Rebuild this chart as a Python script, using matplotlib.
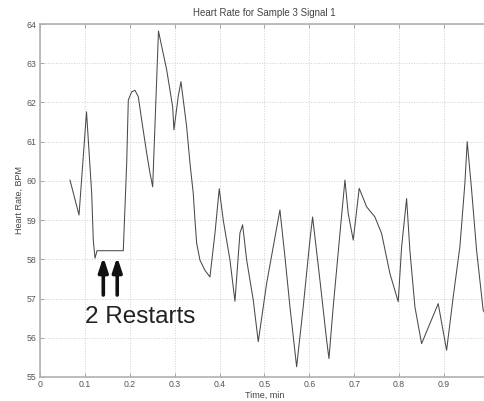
import matplotlib
matplotlib.use("Agg")
import matplotlib.pyplot as plt

# Heart rate trace (time in minutes, BPM)
time_min = [0.0668, 0.0869, 0.1036, 0.1151, 0.1187, 0.1225, 0.127, 0.1855,
            0.1931, 0.1967, 0.2042, 0.2116, 0.2189, 0.2265, 0.2376, 0.245,
            0.251, 0.2639, 0.2822, 0.2955, 0.2984, 0.308, 0.314, 0.3192,
            0.3267, 0.3341, 0.3414, 0.3452, 0.349, 0.3563, 0.3675, 0.3786,
            0.3898, 0.3993, 0.4082, 0.4232, 0.4343, 0.4454, 0.4514, 0.4604,
            0.4751, 0.4862, 0.5049, 0.5196, 0.5345, 0.5457, 0.5568, 0.5717,
            0.5864, 0.6013, 0.6073, 0.6236, 0.6385, 0.6437, 0.6532, 0.6682,
            0.6793, 0.6866, 0.6978, 0.7111, 0.7276, 0.7461, 0.761, 0.7795,
            0.798, 0.8056, 0.8167, 0.824, 0.8352, 0.8501, 0.8871, 0.9058,
            0.9205, 0.9354, 0.9465, 0.9517, 0.9615, 0.9726, 0.9873, 0.9978]
heart_rate = [60.02, 59.13, 61.76, 59.69, 58.49, 58.03, 58.22, 58.22,
              60.45, 62.06, 62.27, 62.31, 62.15, 61.55, 60.71, 60.2,
              59.85, 63.82, 62.83, 61.89, 61.3, 62.16, 62.53, 62.06,
              61.38, 60.45, 59.68, 59.0, 58.41, 57.98, 57.72, 57.55,
              58.67, 59.8, 59.0, 57.98, 56.93, 58.67, 58.88, 57.98,
              56.96, 55.9, 57.39, 58.32, 59.26, 58.06, 56.79, 55.26,
              56.79, 58.49, 59.08, 57.47, 55.94, 55.47, 56.79, 58.66,
              60.02, 59.17, 58.49, 59.81, 59.34, 59.08, 58.66, 57.64,
              56.92, 58.32, 59.55, 58.23, 56.79, 55.85, 56.87, 55.68,
              57.04, 58.32, 59.93, 61.0, 59.77, 58.23, 56.7, 56.5]

restart_times = [0.141, 0.172]
arrow_tip_bpm = 58.06
arrow_tail_bpm = 57.09
annotation_text = "2 Restarts"
x_ticks = [0, 0.1, 0.2, 0.3, 0.4, 0.5, 0.6, 0.7, 0.8, 0.9]
x_tick_labels = ["0", "0.1", "0.2", "0.3", "0.4", "0.5", "0.6", "0.7", "0.8", "0.9"]
y_ticks = [55, 56, 57, 58, 59, 60, 61, 62, 63, 64]

plt.rcParams['font.family'] = ['Liberation Sans', 'DejaVu Sans']

fig = plt.figure(figsize=(4.85, 4.01), dpi=100)
ax = fig.add_axes([0.0825, 0.0599, 1.008 - 0.0825, 0.8802])

ax.plot(time_min, heart_rate, color='#4a4a4a', lw=0.75)

ax.set_xlim(0, 1)
ax.set_ylim(55, 64)
ax.set_xticks(x_ticks)
ax.set_xticklabels(x_tick_labels)
ax.set_yticks(y_ticks)
ax.grid(True, color='#cfcfcf', linestyle=':', linewidth=0.7)
ax.tick_params(direction='in', length=3, width=0.6, colors='#999999',
               labelcolor='#555555', labelsize=6.3, top=True, right=True, pad=2.5)
for s in ax.spines.values():
    s.set_color('#b0b0b0')
    s.set_linewidth(1.2)

ax.set_title("Heart Rate for Sample 3 Signal 1", fontsize=7, color='#444444', pad=6)
ax.set_xlabel("Time, min", fontsize=6.5, color='#444444', labelpad=1)
ax.set_ylabel("Heart Rate, BPM", fontsize=6.5, color='#444444', labelpad=2)

for t in restart_times:
    ax.annotate("", xy=(t, arrow_tip_bpm), xytext=(t, arrow_tail_bpm),
                arrowprops=dict(arrowstyle='-|>,head_width=0.28,head_length=0.85',
                                color='#111111', lw=2.6, shrinkA=0, shrinkB=0))

ax.text(0.223, 56.53, annotation_text, fontsize=17.5, color='#222222',
        ha='center', va='center')

fig.savefig("out.png", dpi=100)
